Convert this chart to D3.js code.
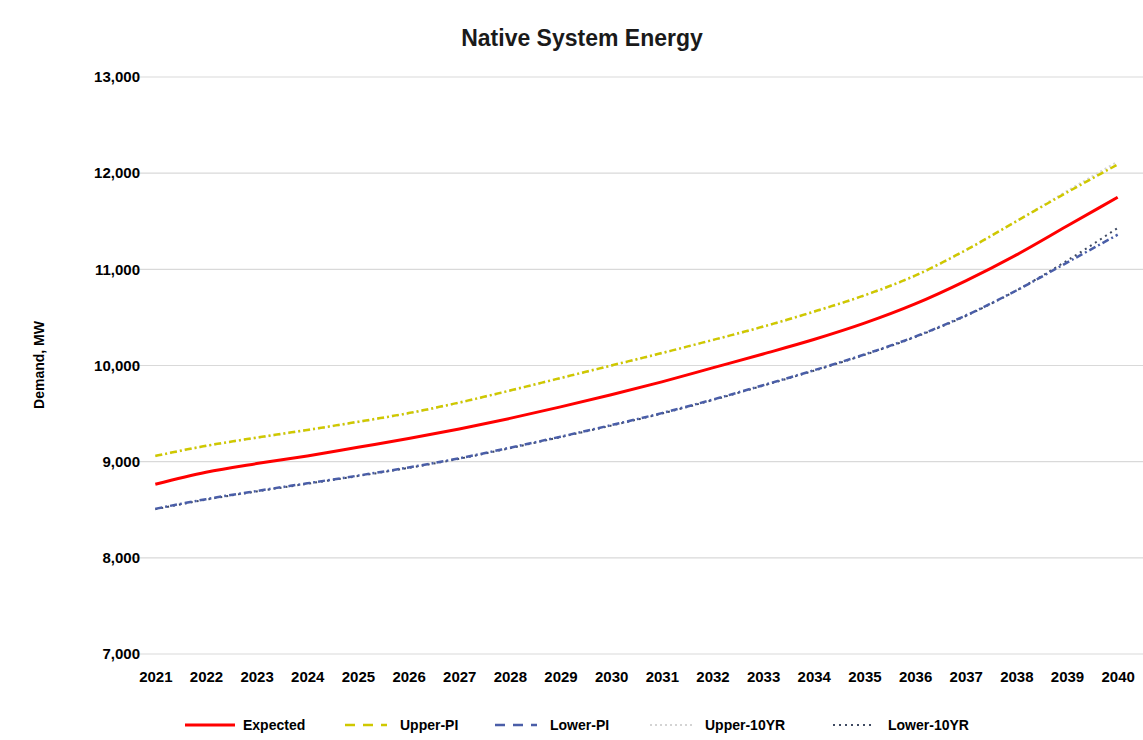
<!DOCTYPE html>
<html><head><meta charset="utf-8">
<script src="https://cdn.jsdelivr.net/npm/d3@7"></script>
<style>body{margin:0;background:#fff;} text{font-family:"Liberation Sans",Arial,sans-serif;}</style>
</head><body>
<svg id="c" width="1143" height="740"></svg>
<script>
const years = ["2021","2022","2023","2024","2025","2026","2027","2028","2029","2030","2031","2032","2033","2034","2035","2036","2037","2038","2039","2040"];
const expected = [8765,8890,8980,9060,9150,9240,9340,9450,9570,9695,9830,9975,10120,10270,10440,10640,10880,11150,11450,11750];
const upperPI  = [9060,9165,9250,9330,9415,9505,9615,9740,9870,10000,10130,10265,10405,10560,10730,10935,11200,11500,11800,12090];
const lowerPI  = [8510,8610,8695,8775,8855,8940,9035,9145,9260,9380,9505,9645,9795,9950,10115,10300,10520,10780,11070,11360];
const upper10YR= [9055,9160,9245,9325,9410,9500,9610,9735,9865,9995,10125,10260,10400,10555,10725,10930,11195,11500,11815,12120];
const lower10YR= [8505,8605,8690,8770,8850,8935,9030,9140,9255,9375,9500,9640,9790,9945,10110,10295,10515,10780,11090,11430];
const yTicks = [7000,8000,9000,10000,11000,12000,13000];

const series = [
  {name:"Expected", values:expected, color:"#ff0000", width:3, dash:null},
  {name:"Upper-PI", values:upperPI, color:"#cfc800", width:2.5, dash:"7,3,2,3"},
  {name:"Lower-PI", values:lowerPI, color:"#4a5ea8", width:2.5, dash:"7,3,2,3"},
  {name:"Upper-10YR", values:upper10YR, color:"#d4d4d4", width:2, dash:"2,3"},
  {name:"Lower-10YR", values:lower10YR, color:"#3f4a62", width:2, dash:"2,4"}
];
const drawOrder = [series[3], series[1], series[4], series[2], series[0]];

const svg = d3.select("#c");
const x = d3.scalePoint().domain(years).range([130,1143]).padding(0.5);
const y = d3.scaleLinear().domain([7000,13000]).range([654,77]);

// gridlines
svg.append("g").selectAll("line").data(yTicks).join("line")
  .attr("x1",130).attr("x2",1143)
  .attr("y1",d=>y(d)).attr("y2",d=>y(d))
  .attr("stroke","#d9d9d9").attr("stroke-width",1.2);

// y axis labels
const yAxis = d3.axisLeft(y).tickValues(yTicks).tickFormat(d3.format(",")).tickSize(0).tickPadding(0);
svg.append("g").attr("transform","translate(140,0)").call(yAxis)
  .call(g=>g.select(".domain").remove())
  .call(g=>g.selectAll("text").attr("font-size",15).attr("font-weight","bold").attr("fill","#000")
    .attr("font-family","Liberation Sans, Arial, sans-serif"));

// x axis labels
const xAxis = d3.axisBottom(x).tickSize(0).tickPadding(0);
svg.append("g").attr("transform","translate(0,671)").call(xAxis)
  .call(g=>g.select(".domain").remove())
  .call(g=>g.selectAll("text").attr("font-size",15).attr("font-weight","bold").attr("fill","#000")
    .attr("font-family","Liberation Sans, Arial, sans-serif"));

// lines
const line = d3.line().x((d,i)=>x(years[i])).y(d=>y(d)).curve(d3.curveMonotoneX);
drawOrder.forEach(s=>{
  svg.append("path").datum(s.values).attr("d",line)
    .attr("fill","none").attr("stroke",s.color).attr("stroke-width",s.width)
    .attr("stroke-dasharray",s.dash).attr("stroke-linecap","butt");
});

// title
svg.append("text").attr("x",582).attr("y",46).attr("text-anchor","middle")
  .attr("font-size",23).attr("font-weight","bold").attr("fill","#1a1a1a").text("Native System Energy");

// y label
svg.append("text").attr("transform","translate(44,365) rotate(-90)").attr("text-anchor","middle")
  .attr("font-size",14).attr("font-weight","bold").attr("fill","#000").text("Demand, MW");

// legend
const legX = [185,345,495,650,833];
const leg = svg.append("g");
series.forEach((s,i)=>{
  const g = leg.append("g").attr("transform",`translate(${legX[i]},725)`);
  g.append("line").attr("x1",0).attr("x2",i===0?50:42).attr("y1",0).attr("y2",0)
    .attr("stroke",s.color).attr("stroke-width",s.width)
    .attr("stroke-dasharray", i===1||i===2 ? "10,8" : s.dash);
  g.append("text").attr("x",i===0?58:55).attr("y",5)
    .attr("font-size",14).attr("font-weight","bold").attr("fill","#000").text(s.name);
});
</script>
</body></html>
